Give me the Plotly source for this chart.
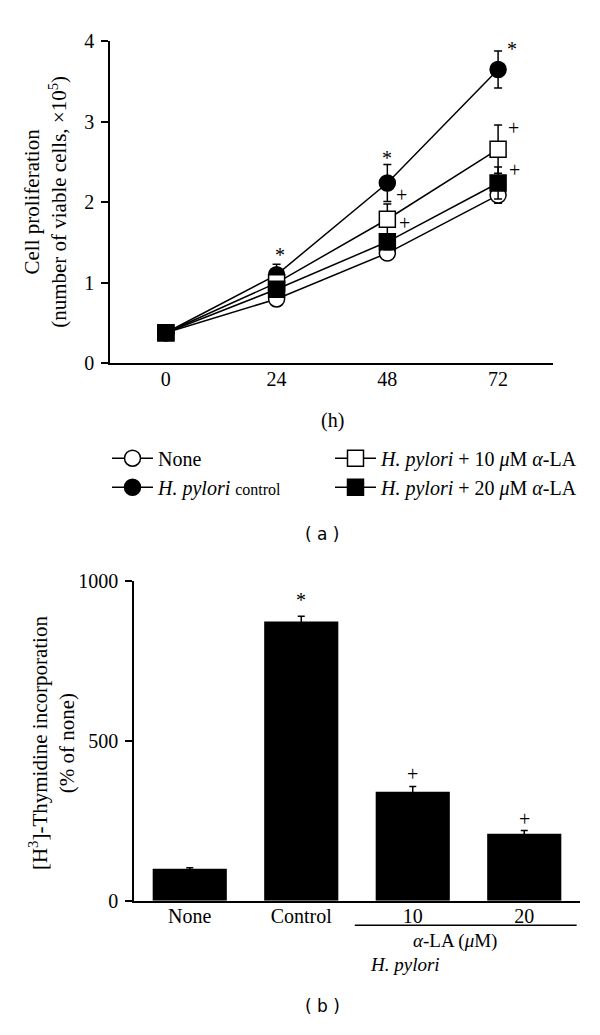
import plotly.graph_objects as go

# ---------- data: panel (a) ----------
hours = [0, 24, 48, 72]
none_vals = [0.38, 0.80, 1.37, 2.09]
none_err = [0.02, 0.09, 0.05, 0.10]
ctrl_vals = [0.38, 1.10, 2.24, 3.65]
ctrl_err = [0.02, 0.13, 0.23, 0.23]
la10_vals = [0.38, 1.00, 1.79, 2.66]
la10_err = [0.02, 0.06, 0.19, 0.30]
la20_vals = [0.38, 0.92, 1.51, 2.24]
la20_err = [0.02, 0.06, 0.10, 0.20]
y_ticks_a = [0, 1, 2, 3, 4]

# significance marks (a)
marks_a_x = [24.7, 48.0, 75.0, 51.0, 51.8, 75.3, 75.5]
marks_a_y = [1.34, 2.55, 3.90, 2.09, 1.74, 2.92, 2.40]
marks_a_t = ["*", "*", "*", "+", "+", "+", "+"]

# ---------- data: panel (b) ----------
bar_cats = ["None", "Control", "10", "20"]
bar_vals = [100, 872, 340, 209]
bar_err = [3, 17, 17, 10]
y_ticks_b = [0, 500, 1000]
marks_b_cat = ["Control", "10", "20"]
marks_b_y = [938, 397, 254]
marks_b_t = ["*", "+", "+"]

SERIF = "Liberation Serif"
SANS = "DejaVu Sans"
W, H = 600, 1035

fig = go.Figure()


def add_series(name, vals, err, symbol, fill, legend):
    fig.add_trace(go.Scatter(
        x=hours, y=vals, name=name, mode="lines+markers",
        line=dict(color="black", width=1.5),
        marker=dict(symbol=symbol, size=16, color=fill,
                    line=dict(color="black", width=1.5)),
        error_y=dict(type="data", array=err, color="black",
                     thickness=1.5, width=4),
        legend=legend, xaxis="x", yaxis="y",
    ))


add_series("None", none_vals, none_err, "circle", "white", "legend")
add_series("<i>H. pylori</i> <span style='font-size:16px'>control</span>",
           ctrl_vals, ctrl_err, "circle", "black", "legend")
add_series("<i>H. pylori</i> + 10 <i>μ</i>M <i>α</i>-LA",
           la10_vals, la10_err, "square", "white", "legend2")
add_series("<i>H. pylori</i> + 20 <i>μ</i>M <i>α</i>-LA",
           la20_vals, la20_err, "square", "black", "legend2")

fig.add_trace(go.Bar(
    x=bar_cats, y=bar_vals, width=0.665,
    marker=dict(color="black", line=dict(color="black", width=0)),
    error_y=dict(type="data", array=bar_err, color="black",
                 thickness=1.5, width=3.5),
    showlegend=False, xaxis="x2", yaxis="y2",
))

annotations = []
for x, y, t in zip(marks_a_x, marks_a_y, marks_a_t):
    annotations.append(dict(x=x, y=y, xref="x", yref="y", text=t,
                            showarrow=False, xanchor="center",
                            yanchor="middle",
                            font=dict(family=SERIF, size=20, color="black")))
for c, y, t in zip(marks_b_cat, marks_b_y, marks_b_t):
    annotations.append(dict(x=bar_cats.index(c), y=y, xref="x2", yref="y2",
                            text=t, showarrow=False, xanchor="center",
                            yanchor="middle",
                            font=dict(family=SERIF, size=20, color="black")))


def px(xp, yp):
    return xp / W, 1 - yp / H


def note(xp, yp, text, family, size, angle=0, xref="paper", xval=None):
    ax, ay = px(xp, yp)
    annotations.append(dict(
        x=ax if xval is None else xval, y=ay, xref=xref, yref="paper",
        showarrow=False, textangle=angle, text=text,
        xanchor="center", yanchor="middle",
        font=dict(family=family, size=size, color="black")))


note(46, 195, "Cell proliferation<br>(number of viable cells, ×10<sup>5</sup>)",
     SERIF, 21, angle=-90)
note(52, 748, "[H<sup>3</sup>]-Thymidine incorporation<br>(% of none)",
     SERIF, 21, angle=-90)
note(332, 418, "(h)", SERIF, 20)
note(322, 534, "( a )", SANS, 17)
note(322, 1017, "( b )", SANS, 17)
note(0, 950, "<i>α</i>-LA (<i>μ</i>M)", SERIF, 19, xref="x2", xval=2.38)
note(0, 974, "<i>H. pylori</i>", SERIF, 19, xref="x2", xval=1.93)

_, ly = px(0, 934)
shapes = [dict(type="line", xref="x2", yref="paper", x0=1.48, x1=3.47,
               y0=ly, y1=ly, line=dict(color="black", width=1.5))]

axis_common = dict(showline=True, linecolor="black", linewidth=1.5,
                   showgrid=False, zeroline=False,
                   tickfont=dict(family=SERIF, size=20, color="black"))

legend_common = dict(orientation="v", xanchor="left", yanchor="top",
                     bgcolor="rgba(0,0,0,0)", tracegroupgap=0,
                     itemwidth=41, traceorder="normal",
                     font=dict(family=SERIF, size=20, color="black"))

fig.update_layout(
    width=W, height=H, autosize=False,
    margin=dict(l=0, r=0, t=0, b=0),
    plot_bgcolor="white", paper_bgcolor="white",
    xaxis=dict(domain=[110 / W, 553 / W], range=[-12.1, 83.9],
               tickvals=hours, ticks="", ticklabelstandoff=-3,
               anchor="y", **axis_common),
    yaxis=dict(domain=[1 - 360 / H, 1 - 31 / H], range=[0, 4],
               tickvals=y_ticks_a, ticks="outside", ticklen=7,
               tickwidth=1.5, tickcolor="black", ticklabelstandoff=3,
               anchor="x", **axis_common),
    xaxis2=dict(domain=[134 / W, 580 / W], range=[-0.5, 3.5],
                type="category", ticks="", ticklabelstandoff=-3,
                anchor="y2", **axis_common),
    yaxis2=dict(domain=[1 - 909 / H, 1 - 582 / H], range=[0, 1000],
                tickvals=y_ticks_b, ticks="outside", ticklen=7,
                tickwidth=1.5, tickcolor="black", ticklabelstandoff=3,
                anchor="x2", **axis_common),
    showlegend=True,
    legend=dict(x=107 / W, y=1 - 437 / H, **legend_common),
    legend2=dict(x=330 / W, y=1 - 437 / H, **legend_common),
    annotations=annotations, shapes=shapes,
)

fig.write_html("out.html", config={"displayModeBar": False},
               post_script="document.body.style.margin='0';")
